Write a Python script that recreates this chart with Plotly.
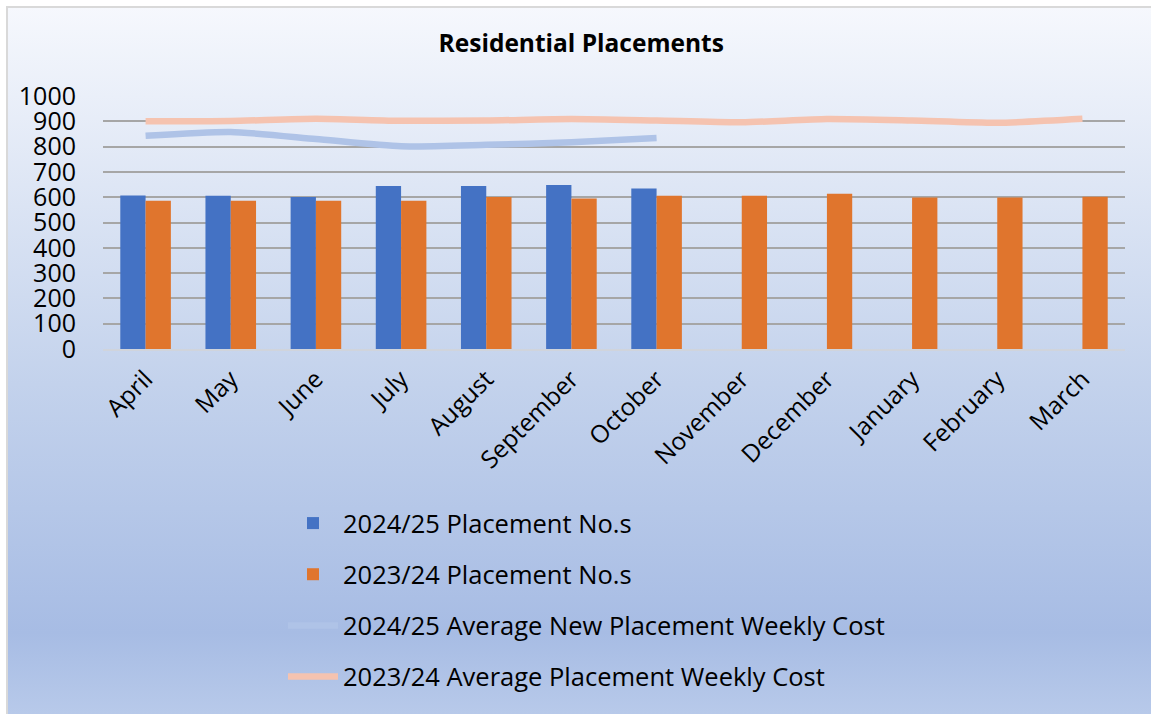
import base64
import plotly.graph_objects as go

months = ["April", "May", "June", "July", "August", "September", "October",
          "November", "December", "January", "February", "March"]
placements_2425 = [607, 606, 601, 644, 644, 648, 634, None, None, None, None, None]
placements_2324 = [586, 586, 586, 586, 601, 595, 606, 606, 614, 599, 599, 602]
cost_2425 = [843, 858, 830, 801, 807, 817, 834, None, None, None, None, None]
cost_2324 = [900, 901, 910, 902, 903, 909, 903, 896, 909, 903, 894, 910]
y_ticks = [0, 100, 200, 300, 400, 500, 600, 700, 800, 900, 1000]

W, H = 1151, 714
L, R, T, B = 103, 26, 96, 365
PW, PH = W - L - R, H - T - B
FONT = "Open Sans"

svg = f'''<svg xmlns="http://www.w3.org/2000/svg" width="{W}" height="{H}" viewBox="0 0 {W} {H}" preserveAspectRatio="none">
<defs><linearGradient id="g" x1="0" y1="0" x2="0" y2="1">
<stop offset="0" stop-color="#f6f8fd"/>
<stop offset="0.5" stop-color="#c3d2ec"/>
<stop offset="0.83" stop-color="#a7bce4"/>
<stop offset="1" stop-color="#c1d1ed"/>
</linearGradient></defs>
<rect x="0" y="0" width="{W}" height="{H}" fill="#ffffff"/>
<rect x="7" y="7" width="{W + 40}" height="{H + 40}" fill="url(#g)" stroke="#d9d9d9" stroke-width="2"/>
</svg>'''
bg_src = "data:image/svg+xml;base64," + base64.b64encode(svg.encode()).decode()

fig = go.Figure()
fig.add_trace(go.Bar(x=months, y=placements_2425, name="2024/25 Placement No.s",
                     marker=dict(color="#4472c4", line=dict(width=0)), legendgroup="a"))
fig.add_trace(go.Bar(x=months, y=placements_2324, name="2023/24 Placement No.s",
                     marker=dict(color="#e0752d", line=dict(width=0)), legendgroup="b"))
fig.add_trace(go.Scatter(x=months, y=cost_2425, name="2024/25 Average New Placement Weekly Cost",
                         mode="lines", line=dict(color="#afc3e7", width=6.5, shape="spline", smoothing=0.6),
                         legendgroup="c"))
fig.add_trace(go.Scatter(x=months, y=cost_2324, name="2023/24 Average Placement Weekly Cost",
                         mode="lines", line=dict(color="#f5c3b0", width=6.5, shape="spline", smoothing=0.6),
                         legendgroup="d"))

fig.update_layout(
    width=W, height=H,
    margin=dict(l=L, r=R, t=T, b=B, pad=0),
    paper_bgcolor="#ffffff", plot_bgcolor="rgba(0,0,0,0)",
    font=dict(family=FONT, color="#000000"),
    barmode="group", bargap=0.406, bargroupgap=0,
    title=dict(text="<b>Residential Placements</b>", x=0.505, xref="container", xanchor="center",
               y=1 - 43 / H, yref="container", yanchor="middle",
               font=dict(size=24.5, family=FONT, color="#000000")),
    showlegend=True,
    legend=dict(orientation="v", x=(283 - L) / PW, xanchor="left",
                y=(H - B - 500) / PH, yanchor="top",
                traceorder="grouped", tracegroupgap=15, itemwidth=50,
                bgcolor="rgba(0,0,0,0)", font=dict(size=25.5, family=FONT, color="#000000")),
    images=[dict(source=bg_src, xref="paper", yref="paper", x=-L / PW, y=1 + T / PH,
                 sizex=W / PW, sizey=H / PH, sizing="stretch", xanchor="left", yanchor="top",
                 layer="below")],
)
fig.update_xaxes(type="category", tickangle=-45, tickfont=dict(size=24.5, family=FONT),
                 showgrid=False, showline=True, linecolor="#d0d4dc", linewidth=2,
                 ticks="", ticklabelstandoff=4)
fig.update_yaxes(range=[0, 1000], tickvals=y_ticks, tickfont=dict(size=25, family=FONT),
                 showgrid=True, gridcolor="#a6a6a6", gridwidth=2,
                 zeroline=False, showline=False, ticks="", ticklabelstandoff=26)

fig.write_html("out.html", config={"displayModeBar": False},
               post_script="document.body.style.margin='0';document.body.style.overflow='hidden';")
